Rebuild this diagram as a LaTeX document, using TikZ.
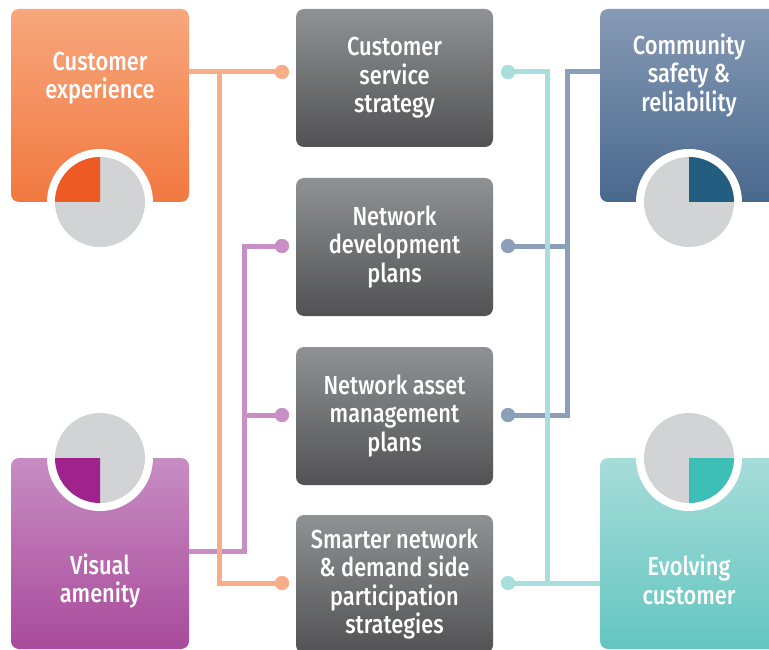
\documentclass[tikz,border=0pt]{standalone}
\usepackage{fontspec}
\setmainfont{Fira Sans}[FakeStretch=0.84, UprightFont=* Medium]
\usetikzlibrary{calc}

% box and pie colours
\definecolor{orTop}{HTML}{F7A77D}
\definecolor{orBot}{HTML}{F27840}
\definecolor{orDark}{HTML}{EE5A24}
\definecolor{orLine}{HTML}{F7AE88}
\definecolor{blTop}{HTML}{879AB5}
\definecolor{blBot}{HTML}{48688D}
\definecolor{blDark}{HTML}{235E81}
\definecolor{blLine}{HTML}{8C9FB8}
\definecolor{puTop}{HTML}{C78DC3}
\definecolor{puBot}{HTML}{A94A9B}
\definecolor{puDark}{HTML}{A0228D}
\definecolor{puLine}{HTML}{C98EC5}
\definecolor{teTop}{HTML}{A7DCD9}
\definecolor{teBot}{HTML}{63C6C0}
\definecolor{teDark}{HTML}{3DBFB8}
\definecolor{teLine}{HTML}{A8DEDB}
\definecolor{grTop}{HTML}{909195}
\definecolor{grBot}{HTML}{525254}
\definecolor{pieGrey}{HTML}{D1D3D4}

\tikzset{
  colbox/.style={rounded corners=8pt, inner sep=0pt, outer sep=0pt,
    minimum width=178pt, minimum height=193pt},
  planbox/.style={rounded corners=8pt, inner sep=0pt, outer sep=0pt,
    minimum width=197pt, minimum height=138pt, top color=grTop, bottom color=grBot,
    text=white, align=center, font=\fontsize{26}{28.5}\selectfont},
  label/.style={text=white, align=center, inner sep=0pt,
    font=\fontsize{26}{28.5}\selectfont},
  link/.style={line width=5pt},
  dot/.style={circle, inner sep=0pt, minimum size=14pt},
}

% pie marker: white ring, grey disc, dark quarter
\newcommand{\pieMark}[3]{%
  \fill[white] (#1) circle (53pt);
  \fill[pieGrey] (#1) circle (45pt);
  \fill[#2] (#1) -- ++(#3:45pt) arc[start angle=#3, delta angle=90, radius=45pt] -- cycle;
}

\begin{document}
\begin{tikzpicture}[x=1pt, y=-1pt]
\clip (0,0) rectangle (769,650);
\fill[white] (0,0) rectangle (769,650);

% coloured outcome boxes
\node[colbox, top color=orTop, bottom color=orBot] (ce) at (100,105.5) {};
\node[colbox, top color=blTop, bottom color=blBot] (cs) at (689,105.5) {};
\node[colbox, minimum height=191pt, top color=puTop, bottom color=puBot] (va) at (100,553.5) {};
\node[colbox, minimum height=191pt, top color=teTop, bottom color=teBot] (ev) at (689,553.5) {};

\pieMark{100,202}{orDark}{90}
\pieMark{689,202}{blDark}{0}
\pieMark{100,458}{puDark}{180}
\pieMark{689,458}{teDark}{270}

\node[label] (ceT) at (100,78) {Customer\\experience};
\node[label] (csT) at (689,75) {Community\\safety \&\\reliability};
\node[label] (vaT) at (100,581) {Visual\\amenity};
\node[label] (evT) at (689,580) {Evolving\\customer};

% plan boxes
\node[planbox] (pl1) at (394.5,78) {Customer\\service\\strategy};
\node[planbox] (pl2) at (394.5,247) {Network\\development\\plans};
\node[planbox] (pl3) at (394.5,416) {Network asset\\management\\plans};
\node[planbox] (pl4) at (394.5,584) {Smarter network\\\& demand side\\participation\\strategies};

% connector end dots and junctions
\node[dot, fill=orLine] (d1) at (282,72) {};
\node[dot, fill=puLine] (d2) at (282,246) {};
\node[dot, fill=puLine] (d3) at (282,415) {};
\node[dot, fill=orLine] (d4) at (282,583) {};
\node[dot, fill=teLine] (e1) at (508,72) {};
\node[dot, fill=blLine] (e2) at (508,246) {};
\node[dot, fill=blLine] (e3) at (508,415) {};
\node[dot, fill=teLine] (e4) at (508,583) {};
\coordinate (oj) at (219,72);
\coordinate (pj) at (244,551);
\coordinate (tj) at (547,72);
\coordinate (bj) at (567,72);

% connectors
\draw[link, puLine] (va.east |- pj) -- (pj) |- (d2.center);
\draw[link, puLine] (pj |- d3) -- (d3.center);
\draw[link, orLine] (ce.east |- oj) -- (d1.center);
\draw[link, orLine] (oj) |- (d4.center);
\draw[link, blLine] (cs.west |- bj) -- (bj) |- (e3.center);
\draw[link, blLine] (e2.center) -- (bj |- e2);
\draw[link, teLine] (e1.center) -- (tj) |- (e4.center);
\draw[link, teLine] (e4.center) -- (ev.west |- e4);

% redraw dots over line ends
\foreach \d/\c in {d1/orLine, d2/puLine, d3/puLine, d4/orLine, e1/teLine, e2/blLine, e3/blLine, e4/teLine}
  \fill[\c] (\d) circle (7pt);
\end{tikzpicture}
\end{document}
